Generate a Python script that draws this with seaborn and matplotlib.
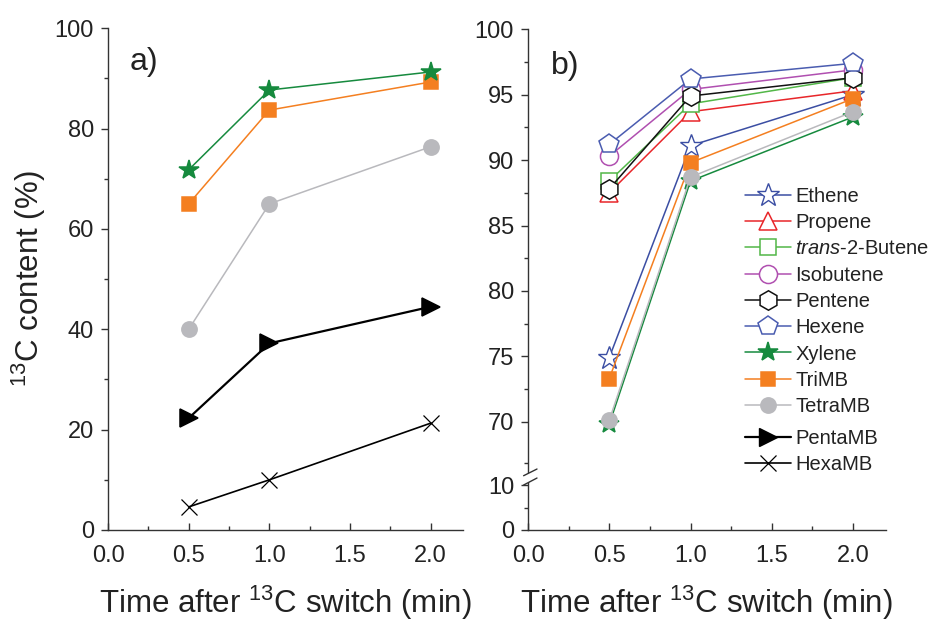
import numpy as np
import matplotlib
matplotlib.use("Agg")
import matplotlib.pyplot as plt
from matplotlib.lines import Line2D
from matplotlib.patches import Polygon
from matplotlib.ticker import FixedLocator, FuncFormatter
import seaborn as sns

# ---------------- data ----------------
time = [0.5, 1.0, 2.0]

# panel a
xylene_a = [71.8, 87.7, 91.3]
trimb_a = [65.0, 83.7, 89.3]
tetramb_a = [40.0, 65.0, 76.4]
pentamb_a = [22.3, 37.2, 44.5]
hexamb_a = [4.6, 10.0, 21.3]

# panel b
ethene_b = [74.9, 91.1, 95.0]
propene_b = [87.5, 93.7, 95.3]
butene_b = [88.4, 94.3, 96.3]
isobutene_b = [90.3, 95.4, 96.9]
pentene_b = [87.8, 94.9, 96.3]
hexene_b = [91.2, 96.2, 97.4]
xylene_b = [69.8, 88.4, 93.3]
trimb_b = [73.3, 89.8, 94.7]
tetramb_b = [70.1, 88.7, 93.7]

xticks = [0.0, 0.5, 1.0, 1.5, 2.0]
yticks_a = [0, 20, 40, 60, 80, 100]
yticks_b = [0, 10, 70, 75, 80, 85, 90, 95, 100]

# ---------------- style ----------------
sns.set_theme(style="ticks")
plt.rcParams["font.family"] = ["Liberation Sans", "DejaVu Sans"]
plt.rcParams["mathtext.fontset"] = "custom"
plt.rcParams["mathtext.rm"] = "Liberation Sans"
plt.rcParams["mathtext.it"] = "Liberation Sans:italic"
plt.rcParams["mathtext.bf"] = "Liberation Sans:bold"
plt.rcParams["mathtext.default"] = "regular"
plt.rcParams["axes.edgecolor"] = "#333333"
plt.rcParams["xtick.color"] = "#333333"
plt.rcParams["ytick.color"] = "#333333"
plt.rcParams["xtick.labelcolor"] = "#222222"
plt.rcParams["ytick.labelcolor"] = "#222222"

W, H = 930, 623
fig = plt.figure(figsize=(W / 100, H / 100), dpi=100)
fig.patch.set_facecolor("white")

ax_a = fig.add_axes([108 / W, (H - 530) / H, 355 / W, 501.7 / H])
ax_b = fig.add_axes([528 / W, (H - 530) / H, 357.5 / W, 500.7 / H])

C_ETH = "#3b4ea3"
C_PRO = "#e8262a"
C_BUT = "#52b748"
C_ISO = "#b04fb0"
C_PEN = "#111111"
C_HEX = "#4a5cb0"
C_XYL = "#168a3e"
C_TRI = "#f47f20"
C_TET = "#b9b9bd"
C_BLK = "#000000"


def draw(ax, y, color, marker, ms, filled, lw=1.1, mew=1.1):
    sns.lineplot(x=time, y=y, ax=ax, color=color, marker=marker,
                 markersize=ms, markerfacecolor=color if filled else "white",
                 markeredgecolor=color, markeredgewidth=mew, linewidth=lw,
                 legend=False)
    return ax.lines[-1]


# ---------------- panel a ----------------
draw(ax_a, hexamb_a, C_BLK, "x", 12, True, lw=1.2, mew=0.9)
draw(ax_a, pentamb_a, C_BLK, ">", 13, True, lw=1.6)
draw(ax_a, tetramb_a, C_TET, "o", 11, True)
draw(ax_a, trimb_a, C_TRI, "s", 10.5, True)
draw(ax_a, xylene_a, C_XYL, "*", 15, True)

ax_a.set_xlim(0, 2.2)
ax_a.set_ylim(0, 100)
ax_a.set_xticks(xticks)
ax_a.set_xticklabels([f"{v:.1f}" for v in xticks])
ax_a.xaxis.set_minor_locator(FixedLocator([0.25, 0.75, 1.25, 1.75]))
ax_a.set_yticks(yticks_a)
ax_a.yaxis.set_minor_locator(FixedLocator([10, 30, 50, 70, 90]))
ax_a.set_ylabel(r"$^{13}$C content (%)", fontsize=22.5, labelpad=5)
ax_a.text(0.062, 0.932, "a)", transform=ax_a.transAxes, fontsize=23,
          va="center", ha="left", color="#222222")

# ---------------- panel b ----------------
handles = []
handles.append(draw(ax_b, ethene_b, C_ETH, "*", 17, False, mew=1.0))
handles.append(draw(ax_b, propene_b, C_PRO, "^", 13, False))
handles.append(draw(ax_b, butene_b, C_BUT, "s", 12, False))
handles.append(draw(ax_b, isobutene_b, C_ISO, "o", 13, False))
handles.append(draw(ax_b, pentene_b, C_PEN, "h", 14, False))
handles.append(draw(ax_b, hexene_b, C_HEX, "p", 15, False))
handles.append(draw(ax_b, xylene_b, C_XYL, "*", 15, True))
handles.append(draw(ax_b, trimb_b, C_TRI, "s", 10.5, True))
handles.append(draw(ax_b, tetramb_b, C_TET, "o", 11, True))
labels = ["Ethene", "Propene", r"$\it{trans}$-2-Butene", "Isobutene",
          "Pentene", "Hexene", "Xylene", "TriMB", "TetraMB"]

# handles for PentaMB / HexaMB (same styles as panel a)
h_penta = Line2D([], [], color=C_BLK, marker=">", markersize=13,
                 markerfacecolor=C_BLK, markeredgecolor=C_BLK, linewidth=1.6)
h_hexa = Line2D([], [], color=C_BLK, marker="x", markersize=12,
                markeredgewidth=0.9, linewidth=1.2)

# broken y scale (pixel positions from bottom)
seg_v = [0, 15, 67.5, 100]
seg_p = [0, 67.5, 75.6, 500.7]


def fwd(v):
    return np.interp(v, seg_v, seg_p)


def inv(p):
    return np.interp(p, seg_p, seg_v)


ax_b.set_yscale("function", functions=(fwd, inv))
ax_b.set_ylim(0, 100)
ax_b.set_xlim(0, 2.2)
ax_b.set_xticks(xticks)
ax_b.set_xticklabels([f"{v:.1f}" for v in xticks])
ax_b.xaxis.set_minor_locator(FixedLocator([0.25, 0.75, 1.25, 1.75]))
ax_b.yaxis.set_major_locator(FixedLocator(yticks_b))
ax_b.yaxis.set_major_formatter(FuncFormatter(lambda v, p: f"{v:g}"))
ax_b.yaxis.set_minor_locator(FixedLocator([5, 15, 72.5, 77.5, 82.5, 87.5,
                                           92.5, 97.5]))
ax_b.text(0.064, 0.926, "b)", transform=ax_b.transAxes, fontsize=23,
          va="center", ha="left", color="#222222")

# axis break marks on the left spine
bw = 357.5
x0, x1 = -4.4 / bw, 9.0 / bw
gap = Polygon([[x0, 0.0898], [x1, 0.1038], [x1, 0.1218], [x0, 0.1084]],
              closed=True, transform=ax_b.transAxes, facecolor="white",
              edgecolor="none", clip_on=False, zorder=5)
ax_b.add_patch(gap)
for ya, yb in [(0.0898, 0.1038), (0.1084, 0.1218)]:
    ax_b.add_line(Line2D([x0, x1], [ya, yb], transform=ax_b.transAxes,
                         color="#333333", linewidth=1.0, clip_on=False,
                         zorder=6))

leg_kw = dict(loc="upper left", frameon=False, fontsize=14.5,
              labelspacing=0.36, handlelength=2.3, handletextpad=0.2,
              borderpad=0, borderaxespad=0)
leg1 = fig.legend(handles, labels, bbox_to_anchor=(745 / W, 1 - 187 / H),
                  **leg_kw)
leg2 = fig.legend([h_penta, h_hexa], ["PentaMB", "HexaMB"],
                  bbox_to_anchor=(745 / W, 1 - 429 / H), **leg_kw)
for lg in (leg1, leg2):
    for t in lg.get_texts():
        t.set_color("#222222")

# ---------------- common axis styling ----------------
for ax in (ax_a, ax_b):
    sns.despine(ax=ax)
    ax.set_xlabel(r"Time after $^{13}$C switch (min)", fontsize=22.5,
                  labelpad=12, color="#222222")
    ax.tick_params(axis="x", which="major", direction="in", length=5,
                   width=1.0, labelsize=17, pad=11)
    ax.tick_params(axis="x", which="minor", direction="in", length=3,
                   width=1.0)
    ax.tick_params(axis="y", which="major", direction="out", length=5,
                   width=1.0, labelsize=17, pad=5)
    ax.tick_params(axis="y", which="minor", direction="out", length=3,
                   width=1.0)
    for s in ("left", "bottom"):
        ax.spines[s].set_linewidth(1.0)
    ax.set_facecolor("white")
    ax.grid(False)

ax_a.yaxis.label.set_color("#222222")

fig.savefig("out.png", dpi=100, facecolor="white")
